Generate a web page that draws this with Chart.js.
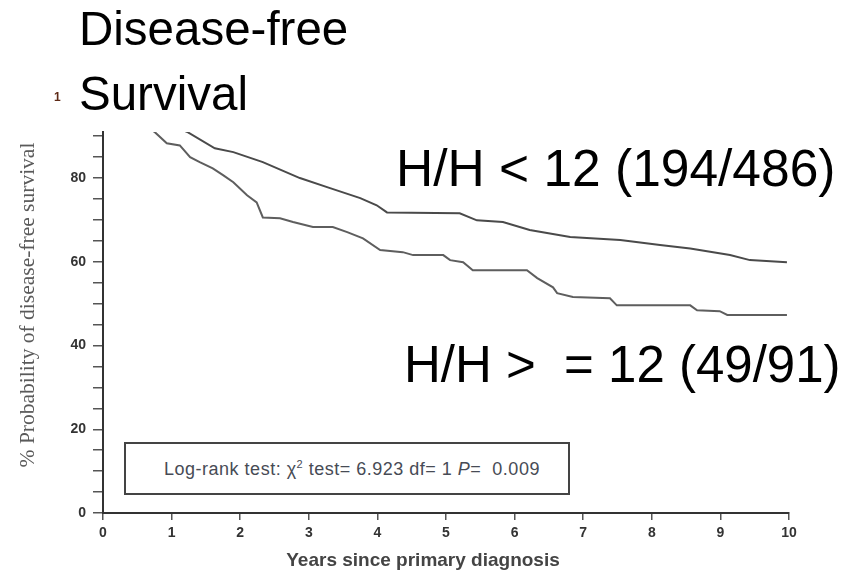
<!DOCTYPE html>
<html>
<head>
<meta charset="utf-8">
<script src="https://cdn.jsdelivr.net/npm/chart.js@4/dist/chart.umd.min.js"></script>
<style>
  body { margin: 0; background: #fff; }
  #wrap { position: relative; width: 856px; height: 574px; overflow: hidden; }
  canvas { position: absolute; left: 0; top: 0; }
  .big { position: absolute; font-family: "Liberation Sans", Arial, sans-serif; color: #000; white-space: pre; }
  #title1 { left: 79px; top: 5px; font-size: 47.5px; line-height: 47.5px; }
  #title2 { left: 79px; top: 70px; font-size: 47.5px; line-height: 47.5px; }
  #num { left: 54px; top: 91px; font-size: 12px; line-height: 12px; font-weight: bold; color: #5e2a16; }
  #lab1 { left: 396px; top: 143px; font-size: 51.5px; line-height: 51.5px; }
  #lab2 { left: 404px; top: 339px; font-size: 51px; line-height: 51px; }
  #ytitle {
    position: absolute; left: -173px; top: 292px; width: 400px; height: 26px;
    line-height: 26px; text-align: center; transform: rotate(-90deg);
    font-family: "Liberation Serif", "Times New Roman", serif; font-size: 21.5px; color: #5a5a5a;
    white-space: nowrap;
  }
  #xtitle {
    position: absolute; left: 223px; top: 549px; width: 400px; height: 22px;
    line-height: 22px; text-align: center;
    font-family: "Liberation Sans", Arial, sans-serif; font-size: 19px; font-weight: bold; color: #444;
    white-space: nowrap;
  }
  #logrank {
    position: absolute; left: 124px; top: 442px; width: 446px; height: 53px;
    box-sizing: border-box; border: 2px solid #444; background: #fff;
    display: flex; align-items: center; justify-content: center;
    font-family: "Liberation Sans", Arial, sans-serif; font-size: 18px; letter-spacing: 0.5px;
    color: #474b55; white-space: pre;
  }
  #logrank span { margin-left: 10px; }
  #logrank sup { font-size: 11px; }
</style>
</head>
<body>
<div id="wrap">
  <canvas id="km" width="856" height="574"></canvas>
  <div class="big" id="title1">Disease-free</div>
  <div class="big" id="num">1</div>
  <div class="big" id="title2">Survival</div>
  <div class="big" id="lab1">H/H &lt; 12 (194/486)</div>
  <div class="big" id="lab2">H/H &gt;  = 12 (49/91)</div>
  <div id="ytitle">% Probability of disease-free survival</div>
  <div id="xtitle">Years since primary diagnosis</div>
  <div id="logrank"><span>Log-rank test: &chi;<sup>2</sup> test= 6.923 df= 1 <i>P</i>=  0.009</span></div>
</div>
<script>
// H/H < 12 curve (years, % disease-free)
const upperYears = [0, 1.24, 1.63, 1.90, 2.33, 2.87, 3.31, 3.75, 3.99, 4.14, 5.20, 5.45, 5.83, 6.22, 6.81, 7.54, 8.12, 8.56, 9.14, 9.43, 9.97];
const upperSurv = [100, 90.9, 87.1, 86.2, 83.8, 80.0, 77.6, 75.2, 73.5, 71.8, 71.6, 69.9, 69.5, 67.6, 65.9, 65.2, 64.0, 63.2, 61.6, 60.4, 59.9];

// H/H >= 12 curve
const lowerYears = [0, 0.76, 0.93, 1.12, 1.27, 1.41, 1.60, 1.75, 1.90, 2.10, 2.24, 2.33, 2.58, 2.77, 3.06, 3.35, 3.56, 3.79, 4.04, 4.37, 4.52, 4.96, 5.06, 5.25, 5.39, 6.18, 6.33, 6.56, 6.62, 6.85, 7.39, 7.49, 8.56, 8.66, 8.99, 9.10, 9.97];
const lowerSurv = [100, 90.9, 88.3, 87.8, 85.0, 83.8, 82.3, 80.7, 79.0, 75.9, 74.2, 70.6, 70.4, 69.5, 68.3, 68.3, 67.1, 65.6, 62.8, 62.3, 61.6, 61.6, 60.4, 59.9, 58.0, 58.0, 56.1, 53.9, 52.5, 51.6, 51.3, 49.6, 49.6, 48.4, 48.2, 47.3, 47.3];

const yLabelTicks = [0, 20, 40, 60, 80];

function toPoints(xs, ys) {
  return xs.map((x, i) => ({ x: x, y: ys[i] }));
}

const ctx = document.getElementById("km").getContext("2d");
new Chart(ctx, {
  type: "line",
  data: {
    datasets: [
      {
        label: "H/H < 12",
        data: toPoints(upperYears, upperSurv),
        borderColor: "#4a4a4a",
        borderWidth: 2,
        pointRadius: 0,
        tension: 0,
      },
      {
        label: "H/H >= 12",
        data: toPoints(lowerYears, lowerSurv),
        borderColor: "#5e5e5e",
        borderWidth: 2,
        pointRadius: 0,
        tension: 0,
      },
    ],
  },
  options: {
    responsive: false,
    animation: false,
    layout: { padding: { left: 0, top: 132, right: 67, bottom: 0 } },
    plugins: { legend: { display: false }, tooltip: { enabled: false } },
    scales: {
      x: {
        type: "linear",
        min: 0,
        max: 10,
        afterFit: (scale) => { scale.height = 61; },
        grid: { drawOnChartArea: false, tickLength: 7, color: "#555", lineWidth: 1.5 },
        border: { color: "#333", width: 2 },
        ticks: {
          stepSize: 1,
          padding: 5,
          color: "#333",
          font: { family: "Liberation Sans", size: 14, weight: "bold" },
        },
      },
      y: {
        min: 0,
        max: 91,
        afterFit: (scale) => { scale.width = 103; },
        grid: { drawOnChartArea: false, tickLength: 10, color: "#555", lineWidth: 1.5 },
        border: { color: "#333", width: 2 },
        ticks: {
          stepSize: 5,
          includeBounds: false,
          padding: 7,
          color: "#333",
          font: { family: "Liberation Sans", size: 14, weight: "bold" },
          callback: (value) => (yLabelTicks.includes(value) ? String(value) : ""),
        },
      },
    },
  },
});
</script>
</body>
</html>
